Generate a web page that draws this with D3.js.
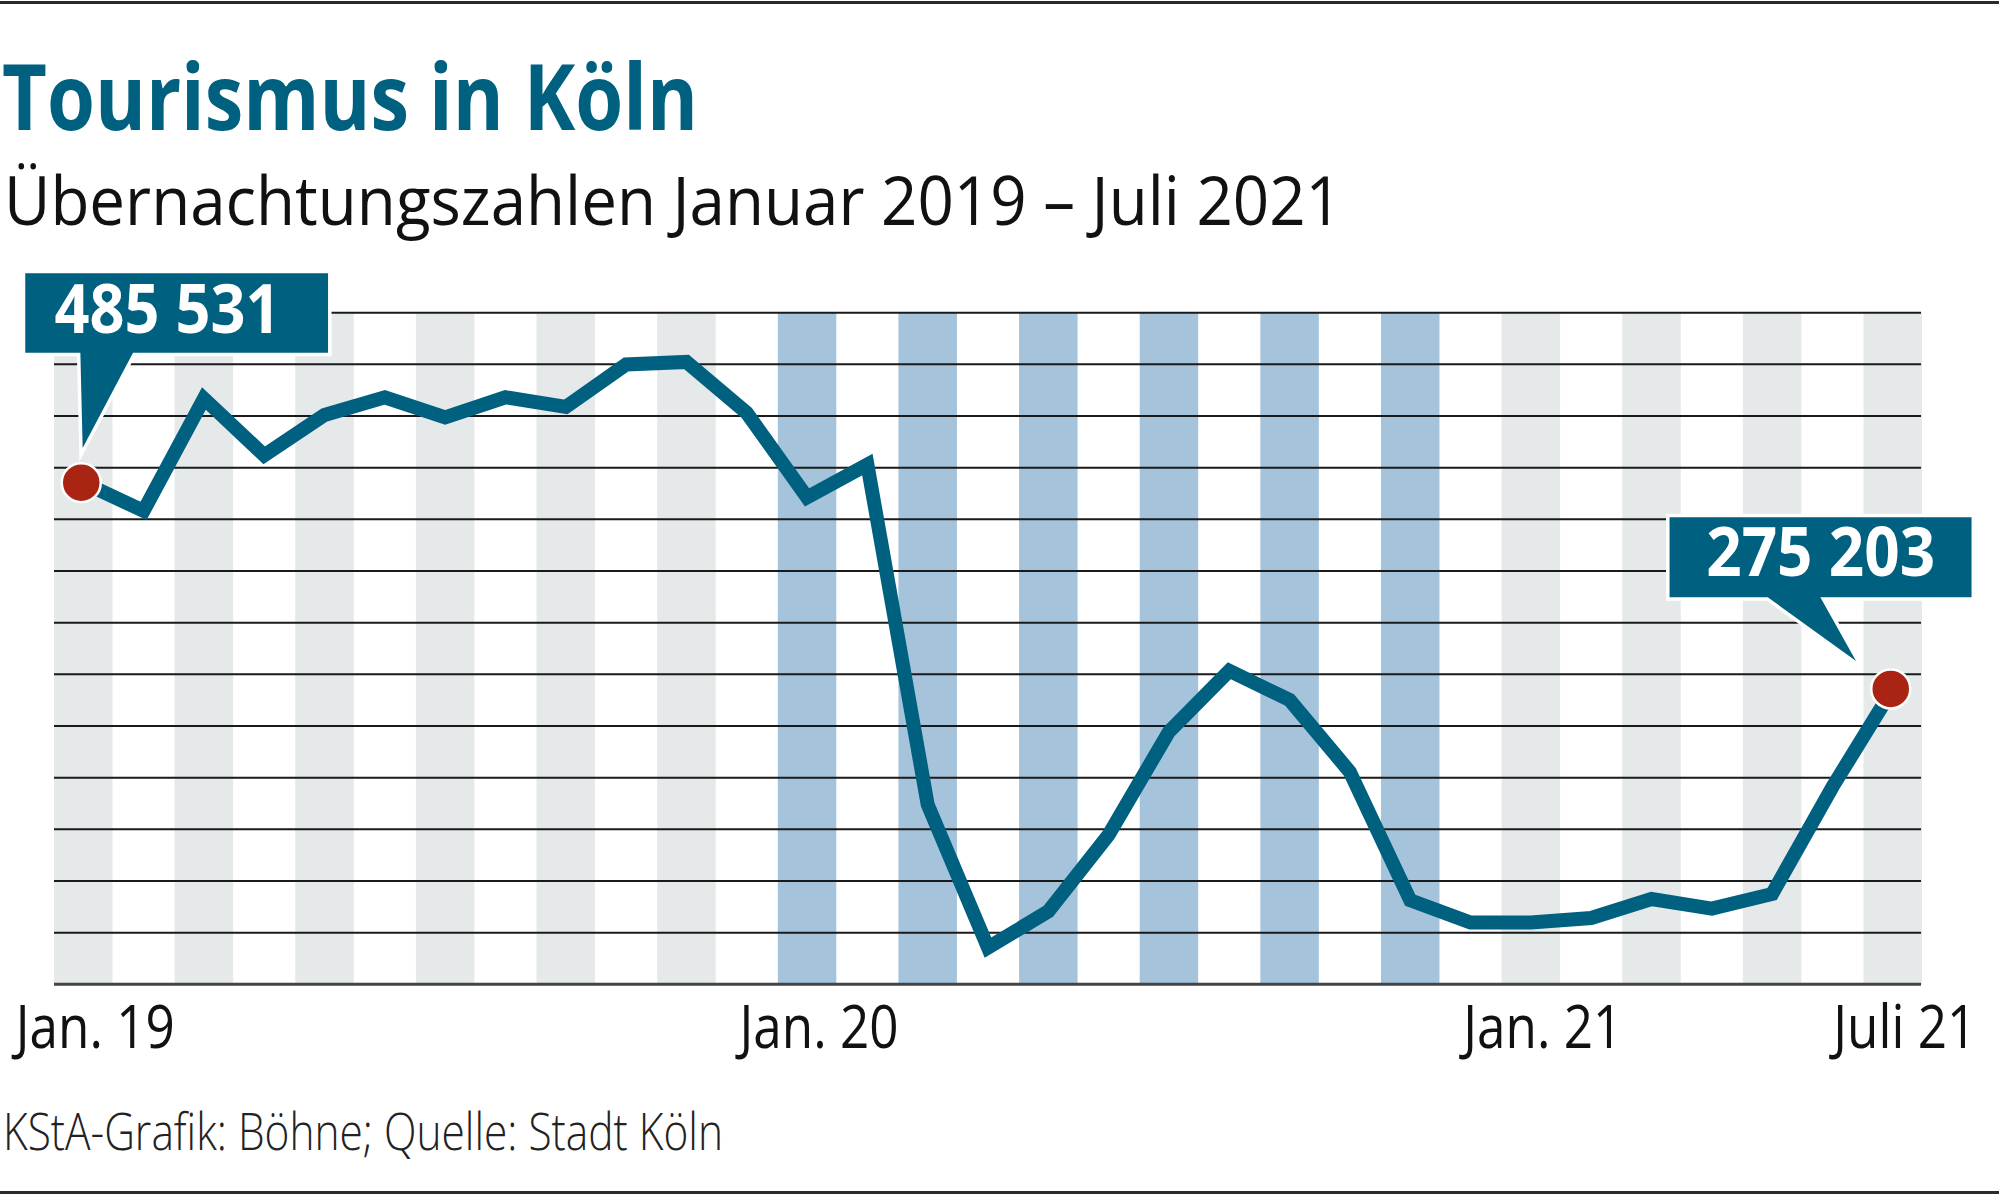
<!DOCTYPE html>
<html>
<head>
<meta charset="utf-8">
<script src="https://cdn.jsdelivr.net/npm/d3@7"></script>
<style>
  body { margin: 0; background: #ffffff; }
  svg { display: block; font-family: "Open Sans", "Noto Sans", sans-serif; }
</style>
</head>
<body>
<div id="chart"></div>
<script>
// Übernachtungen in Köln, monthly, Jan 2019 - Jul 2021
var months = [
  "2019-01", "2019-02", "2019-03", "2019-04", "2019-05", "2019-06",
  "2019-07", "2019-08", "2019-09", "2019-10", "2019-11", "2019-12",
  "2020-01", "2020-02", "2020-03", "2020-04", "2020-05", "2020-06",
  "2020-07", "2020-08", "2020-09", "2020-10", "2020-11", "2020-12",
  "2021-01", "2021-02", "2021-03", "2021-04", "2021-05", "2021-06",
  "2021-07"
];
var overnight_stays = [
  485531, 456700, 571300, 513400, 554500, 572600,
  552000, 572600, 562700, 606000, 608600, 556700,
  470500, 504000, 157300, 11500, 48500, 126600,
  231600, 293800, 264000, 190600, 59800, 37100,
  37100, 41700, 61100, 51200, 66200, 175300,
  275203
];
var tick_months = ["2019-01", "2020-01", "2021-01", "2021-07"];
var tick_labels = ["Jan. 19", "Jan. 20", "Jan. 21", "Juli 21"];
var highlight_months = ["2019-01", "2021-07"];

var width = 1999,
  height = 1196;
var plot = { top: 312.7, bottom: 984.3, left: 54, right: 1922 };

var teal = "#006080",
  grey_band = "#e5e9ea",
  blue_band = "#a5c4dc",
  dot_red = "#a92412";

var data = months.map((m, i) => ({ month: m, value: overnight_stays[i] }));

var fmt = d3.formatLocale({
  decimal: ",",
  thousands: " ",
  grouping: [3],
  currency: ["", " €"],
}).format(",d");

var svg = d3
  .select("#chart")
  .append("svg")
  .attr("width", width)
  .attr("height", height)
  .attr("viewBox", [0, 0, width, height]);

// scales
var x = d3
  .scaleBand()
  .domain(months)
  .range([plot.left, plot.right])
  .paddingInner(0.03)
  .paddingOuter(0);

var y = d3
  .scaleLinear()
  .domain([-25900, 658800])
  .range([plot.bottom, plot.top]);

var grid_y = d3.scaleLinear().domain([0, 13]).range([plot.bottom, plot.top]);

var cx = (m) => x(m) + x.bandwidth() / 2;

// rules top and bottom
svg.append("rect").attr("x", 0).attr("y", 1).attr("width", width).attr("height", 3).attr("fill", "#2b2b2b");
svg.append("rect").attr("x", 0).attr("y", 1191).attr("width", width).attr("height", 3).attr("fill", "#2b2b2b");

// headings
function fit(sel, w) {
  sel.attr("textLength", w).attr("lengthAdjust", "spacingAndGlyphs");
}

svg
  .append("text")
  .attr("x", 2)
  .attr("y", 130)
  .attr("font-size", 91)
  .attr("font-weight", 700)
  .attr("fill", teal)
  .text("Tourismus in Köln")
  .call(fit, 696);

svg
  .append("text")
  .attr("x", 4)
  .attr("y", 225)
  .attr("font-size", 67)
  .attr("fill", "#111")
  .text("Übernachtungszahlen Januar 2019 – Juli 2021")
  .call(fit, 1338);

svg
  .append("text")
  .attr("x", 3)
  .attr("y", 1150)
  .attr("font-size", 51)
  .attr("font-weight", 300)
  .attr("fill", "#222")
  .text("KStA-Grafik: Böhne; Quelle: Stadt Köln")
  .call(fit, 720);

// month bands, every second month, 2020 in blue
svg
  .append("g")
  .selectAll("rect")
  .data(months.filter((m, i) => i % 2 === 0))
  .enter()
  .append("rect")
  .attr("x", (d) => x(d))
  .attr("y", plot.top)
  .attr("width", x.bandwidth())
  .attr("height", plot.bottom - plot.top)
  .attr("fill", (d) => (d.startsWith("2020") ? blue_band : grey_band));

// horizontal lines
svg
  .append("g")
  .selectAll("line")
  .data(d3.range(14))
  .enter()
  .append("line")
  .attr("x1", plot.left)
  .attr("x2", plot.right - 1)
  .attr("y1", (d) => grid_y(d))
  .attr("y2", (d) => grid_y(d))
  .attr("stroke", (d) => (d === 0 ? "#444" : "#1a1a1a"))
  .attr("stroke-width", (d) => (d === 0 ? 3 : 2));

// x axis labels, narrowed to look like the condensed face
var x_axis = d3
  .axisBottom(x)
  .tickValues(tick_months)
  .tickFormat((d) => tick_labels[tick_months.indexOf(d)])
  .tickSize(0);

var axis_g = svg
  .append("g")
  .attr("transform", "translate(12," + plot.bottom + ")")
  .call(x_axis);

axis_g.select(".domain").remove();
axis_g
  .attr("font-size", null)
  .attr("font-family", null)
  .selectAll("text")
  .attr("y", 64)
  .attr("dy", 0)
  .attr("font-size", 61)
  .attr("fill", "#111")
  .attr("transform", "scale(0.84,1)");

// the line
var line = d3
  .line()
  .x((d) => cx(d.month))
  .y((d) => y(d.value));

svg
  .append("path")
  .datum(data)
  .attr("d", line)
  .attr("fill", "none")
  .attr("stroke", teal)
  .attr("stroke-width", 14)
  .attr("stroke-linejoin", "miter")
  .attr("stroke-miterlimit", 6);

// callouts for first and last value
var callouts = [
  { month: "2019-01", box: [-58, -209.4, 244.8, -130], base: [-2.9, 49.8], tip: [-0.6, -34.7], text: [-28.8, -149.4], tw: 226 },
  { month: "2021-07", box: [-223.2, -171.7, 78.8, -91.7], base: [-125, -72.4], tip: [-36.7, -28], text: [-186.6, -113], tw: 229 },
];

var highlights = data.filter((d) => highlight_months.includes(d.month));

svg
  .append("g")
  .selectAll("circle")
  .data(highlights)
  .enter()
  .append("circle")
  .attr("cx", (d) => cx(d.month) - 2)
  .attr("cy", (d) => y(d.value))
  .attr("r", 19.5)
  .attr("fill", dot_red)
  .attr("stroke", "#fff")
  .attr("stroke-width", 2.5);

var call_g = svg
  .append("g")
  .selectAll("g")
  .data(highlights)
  .enter()
  .append("g")
  .attr("transform", (d) => "translate(" + cx(d.month) + "," + y(d.value) + ")");

call_g
  .append("path")
  .attr("d", (d) => {
    var c = callouts.find((e) => e.month === d.month),
      b = c.box;
    return d3.line()([
      [b[0], b[1]],
      [b[2], b[1]],
      [b[2], b[3]],
      [c.base[1], b[3]],
      c.tip,
      [c.base[0], b[3]],
      [b[0], b[3]],
    ]) + "Z";
  })
  .attr("fill", teal)
  .attr("stroke", "#fff")
  .attr("stroke-width", 7)
  .attr("stroke-linejoin", "miter")
  .attr("paint-order", "stroke");

call_g
  .append("text")
  .attr("x", (d) => callouts.find((e) => e.month === d.month).text[0])
  .attr("y", (d) => callouts.find((e) => e.month === d.month).text[1])
  .attr("font-size", 68)
  .attr("font-weight", 700)
  .attr("fill", "#fff")
  .text((d) => fmt(d.value))
  .attr("textLength", (d) => callouts.find((e) => e.month === d.month).tw)
  .attr("lengthAdjust", "spacingAndGlyphs");
</script>
</body>
</html>
